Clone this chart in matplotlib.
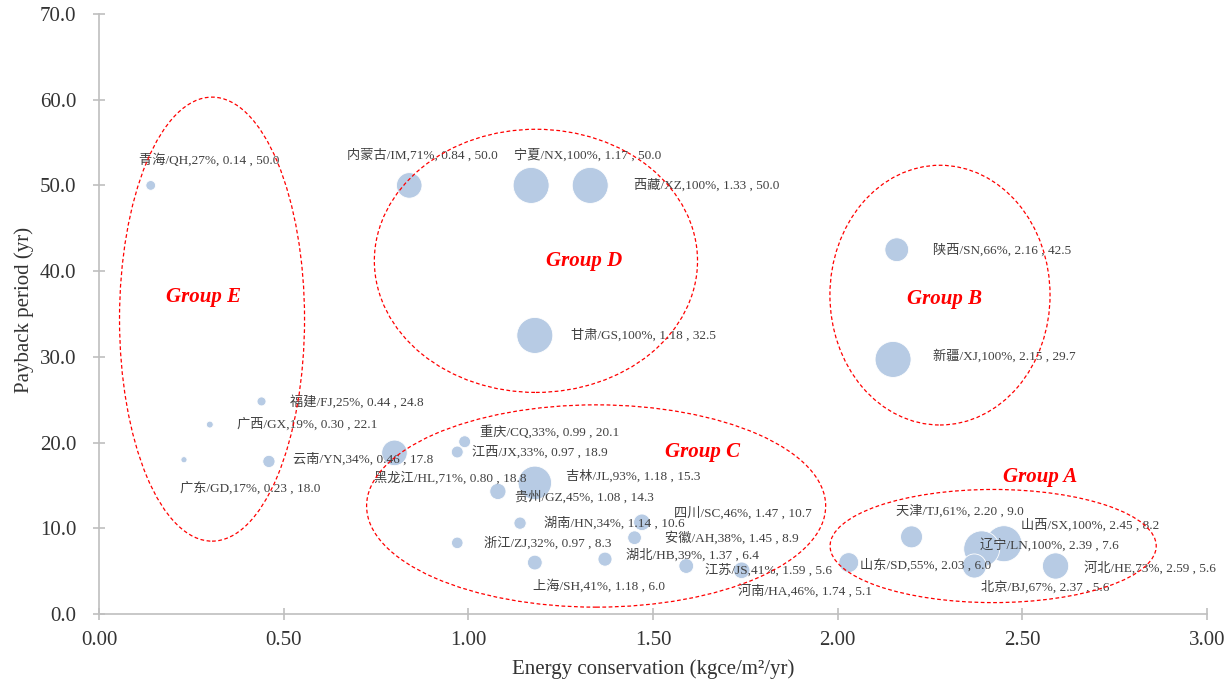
import matplotlib
matplotlib.use("Agg")
import matplotlib.pyplot as plt
from matplotlib.patches import Ellipse
from matplotlib.ticker import FormatStrFormatter, MultipleLocator

# provinces: name, code, share (%), energy conservation, payback period
names = ["青海", "内蒙古", "宁夏", "西藏", "陕西", "新疆", "甘肃", "福建", "广西", "广东",
         "云南", "黑龙江", "重庆", "江西", "吉林", "贵州", "四川", "湖南", "安徽", "浙江",
         "湖北", "上海", "江苏", "河南", "天津", "山西", "辽宁", "山东", "北京", "河北"]
codes = ["QH", "IM", "NX", "XZ", "SN", "XJ", "GS", "FJ", "GX", "GD",
         "YN", "HL", "CQ", "JX", "JL", "GZ", "SC", "HN", "AH", "ZJ",
         "HB", "SH", "JS", "HA", "TJ", "SX", "LN", "SD", "BJ", "HE"]
share = [27, 71, 100, 100, 66, 100, 100, 25, 19, 17,
         34, 71, 33, 33, 93, 45, 46, 34, 38, 32,
         39, 41, 41, 46, 61, 100, 100, 55, 67, 73]
energy = [0.14, 0.84, 1.17, 1.33, 2.16, 2.15, 1.18, 0.44, 0.30, 0.23,
          0.46, 0.80, 0.99, 0.97, 1.18, 1.08, 1.47, 1.14, 1.45, 0.97,
          1.37, 1.18, 1.59, 1.74, 2.20, 2.45, 2.39, 2.03, 2.37, 2.59]
payback = [50.0, 50.0, 50.0, 50.0, 42.5, 29.7, 32.5, 24.8, 22.1, 18.0,
           17.8, 18.8, 20.1, 18.9, 15.3, 14.3, 10.7, 10.6, 8.9, 8.3,
           6.4, 6.0, 5.6, 5.1, 9.0, 8.2, 7.6, 6.0, 5.6, 5.6]

# label offsets in pixels (left edge of text, vertical centre) from bubble centre
label_offsets = {
    "QH": (-12, 26), "IM": (-62, 30), "NX": (-17, 30), "XZ": (44, 0),
    "SN": (36, 0), "XJ": (40, 3), "GS": (36, 0), "FJ": (28, 0),
    "GX": (27, 0), "GD": (-4, -28), "YN": (24, 2), "HL": (-20, -25),
    "CQ": (15, 10), "JX": (15, 0), "JL": (31, 7), "GZ": (17, -6),
    "SC": (32, 9), "HN": (24, 0), "AH": (30, 0), "ZJ": (27, 0),
    "HB": (21, 4), "SH": (-2, -23), "JS": (19, -4), "HA": (-4, -20),
    "TJ": (-16, 26), "SX": (17, 19), "LN": (-2, 4), "SD": (11, -3),
    "BJ": (7, -21), "HE": (28, -2),
}

# group ellipses: label, centre x, centre y, width, height, label x, label y
groups = ["Group A", "Group B", "Group C", "Group D", "Group E"]
ell_cx = [2.421, 2.277, 1.346, 1.183, 0.306]
ell_cy = [7.93, 37.2, 12.6, 41.2, 34.4]
ell_w = [0.883, 0.596, 1.243, 0.875, 0.501]
ell_h = [13.2, 30.3, 23.6, 30.7, 51.8]
grp_lx = [2.548, 2.288, 1.635, 1.313, 0.284]
grp_ly = [16.0, 36.8, 18.9, 41.2, 37.0]

serif = ["Liberation Serif", "Noto Sans CJK SC"]
plt.rcParams["font.family"] = serif

fig = plt.figure(figsize=(12.27, 6.82), dpi=100)
ax = fig.add_axes([0.0807, 0.0997, 0.903, 0.8798])

sizes = [(p / 100 * 25.9) ** 2 for p in share]
ax.scatter(energy, payback, s=sizes, color="#b7cbe4", edgecolor="white",
           linewidth=0.6, zorder=2)

for n, c, p, x, y in zip(names, codes, share, energy, payback):
    dx, dy = label_offsets[c]
    ax.annotate(f"{n}/{c},{p}%, {x:.2f} , {y:.1f}", (x, y), xytext=(dx, dy),
                textcoords="offset pixels", ha="left", va="center",
                fontsize=9.5, color="#404040", family=serif, zorder=3)

for g, cx, cy, w, h, lx, ly in zip(groups, ell_cx, ell_cy, ell_w, ell_h, grp_lx, grp_ly):
    ax.add_patch(Ellipse((cx, cy), w, h, fill=False, edgecolor="red",
                         linestyle=(0, (3, 2)), linewidth=0.9, zorder=4))
    ax.text(lx, ly, g, color="red", fontsize=15, fontweight="bold",
            fontstyle="italic", ha="center", va="center", zorder=4)

ax.set_xlim(0, 3.0)
ax.set_ylim(0, 70)
ax.xaxis.set_major_locator(MultipleLocator(0.5))
ax.yaxis.set_major_locator(MultipleLocator(10))
ax.xaxis.set_major_formatter(FormatStrFormatter("%.2f"))
ax.yaxis.set_major_formatter(FormatStrFormatter("%.1f"))

for side in ["top", "right"]:
    ax.spines[side].set_visible(False)
for side in ["left", "bottom"]:
    ax.spines[side].set_color("#bfbfbf")
    ax.spines[side].set_linewidth(1.2)
ax.tick_params(colors="#bfbfbf", labelcolor="#333333", labelsize=15,
               length=8.5, width=1.2, direction="inout")
ax.tick_params(axis="y", pad=12)
ax.tick_params(axis="x", pad=8)

ax.set_xlabel("Energy conservation (kgce/m²/yr)", fontsize=15, color="#333333")
ax.set_ylabel("Payback period (yr)", fontsize=15, color="#333333")
ax.xaxis.set_label_coords(0.5, -0.075)
ax.yaxis.set_label_coords(-0.059, 0.507)

fig.savefig("out.png", dpi=100)
